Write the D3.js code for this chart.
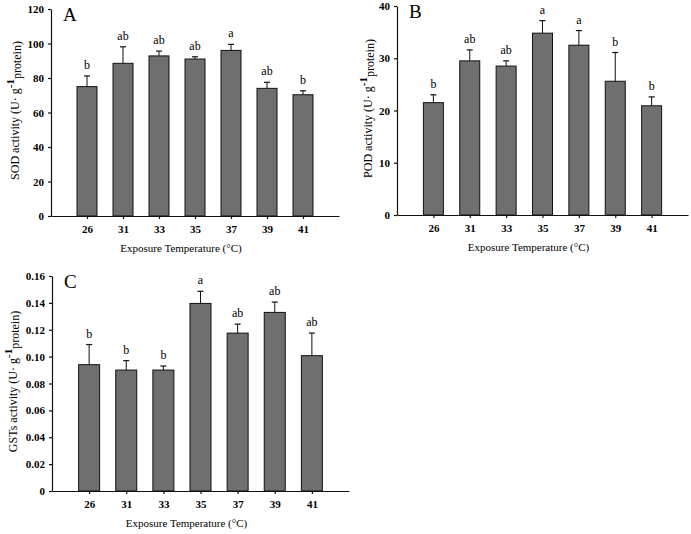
<!DOCTYPE html>
<html>
<head>
<meta charset="utf-8">
<script src="https://cdn.jsdelivr.net/npm/d3@7"></script>
<style>
  body { margin: 0; background: #fff; }
  svg { display: block; font-family: "Liberation Serif", "Times New Roman", serif; }
  .tick text { font-family: "Liberation Serif", "Times New Roman", serif; font-weight: bold; font-size: 11px; }
</style>
</head>
<body>
<svg id="chart" width="691" height="534"></svg>
<script>
// categories
const temps = ["26", "31", "33", "35", "37", "39", "41"];

// SOD (panel A)
const sodMean = [75.0, 88.5, 92.8, 91.0, 96.0, 74.0, 70.3];
const sodErr = [6.2, 9.6, 2.8, 1.3, 3.5, 3.5, 2.3];
const sodLetters = ["b", "ab", "ab", "ab", "a", "ab", "b"];
const sodTicks = [0, 20, 40, 60, 80, 100, 120];

// POD (panel B)
const podMean = [21.5, 29.5, 28.5, 34.8, 32.5, 25.6, 20.9];
const podErr = [1.5, 2.1, 1.0, 2.4, 2.8, 5.5, 1.7];
const podLetters = ["b", "ab", "ab", "a", "a", "b", "b"];
const podTicks = [0, 10, 20, 30, 40];

// GSTs (panel C)
const gstMean = [0.094, 0.090, 0.090, 0.1396, 0.1175, 0.1329, 0.1007];
const gstErr = [0.015, 0.007, 0.003, 0.009, 0.0067, 0.0077, 0.0168];
const gstLetters = ["b", "b", "b", "a", "ab", "ab", "ab"];
const gstTicks = [0, 0.02, 0.04, 0.06, 0.08, 0.10, 0.12, 0.14, 0.16];

const svg = d3.select("#chart");

// 画一个面板
function drawPanel(p) {
  const g = svg.append("g");

  const x = d3.scalePoint().domain(temps).range([p.x0, p.x1]).padding(1);
  const y = d3.scaleLinear().domain([0, p.max]).range([p.yb, p.yt]);

  const rows = temps.map((t, i) => ({ t, v: p.mean[i], e: p.err[i], l: p.letters[i] }));

  // bars
  g.selectAll("rect.bar").data(rows).enter().append("rect")
    .attr("class", "bar")
    .attr("x", d => x(d.t) - p.bw / 2)
    .attr("y", d => y(d.v))
    .attr("width", p.bw)
    .attr("height", d => y(0) - y(d.v))
    .attr("fill", "#6f6f6f")
    .attr("stroke", "#111")
    .attr("stroke-width", 1);

  // error bars (upper only)
  g.selectAll("line.err").data(rows).enter().append("line")
    .attr("x1", d => x(d.t)).attr("x2", d => x(d.t))
    .attr("y1", d => y(d.v)).attr("y2", d => y(d.v + d.e))
    .attr("stroke", "#111");
  g.selectAll("line.cap").data(rows).enter().append("line")
    .attr("x1", d => x(d.t) - 3).attr("x2", d => x(d.t) + 3)
    .attr("y1", d => y(d.v + d.e)).attr("y2", d => y(d.v + d.e))
    .attr("stroke", "#111").attr("stroke-width", 1.2);

  // significance letters
  g.selectAll("text.sig").data(rows).enter().append("text")
    .attr("x", d => x(d.t))
    .attr("y", d => y(d.v + d.e) - 7)
    .attr("text-anchor", "middle")
    .attr("font-size", 12)
    .text(d => d.l);

  // axes
  g.append("g")
    .attr("transform", `translate(${p.x0},0)`)
    .call(d3.axisLeft(y).tickValues(p.ticks).tickSize(3).tickPadding(4).tickSizeOuter(0).tickFormat(p.fmt));
  g.append("g")
    .attr("transform", `translate(0,${p.yb})`)
    .call(d3.axisBottom(x).tickSize(3).tickPadding(6).tickSizeOuter(0));
  g.selectAll(".domain, .tick line").attr("stroke", "#111").attr("stroke-width", 1.2);

  // panel letter
  g.append("text")
    .attr("x", p.x0 + 12).attr("y", p.yt + 12)
    .attr("font-size", 19)
    .text(p.tag);

  // x title
  g.append("text")
    .attr("x", (p.x0 + p.x1) / 2 - 14).attr("y", p.yb + 36)
    .attr("text-anchor", "middle")
    .attr("font-size", 11)
    .text("Exposure Temperature (°C)");

  // y title
  const yt = g.append("text")
    .attr("transform", `translate(${p.tx},${(p.yt + p.yb) / 2 - 2}) rotate(-90)`)
    .attr("text-anchor", "middle")
    .attr("font-size", 12);
  yt.append("tspan").text(p.name + " activity (U· g");
  yt.append("tspan").attr("dy", -5).attr("font-weight", "bold").attr("font-size", 11).text("-1");
  yt.append("tspan").attr("dy", 7).text("protein)");
}

drawPanel({ tag: "A", name: "SOD", mean: sodMean, err: sodErr, letters: sodLetters, ticks: sodTicks,
  max: 120, fmt: d3.format("d"), x0: 51, x1: 339, yt: 9, yb: 216, bw: 20, tx: 19 });
drawPanel({ tag: "B", name: "POD", mean: podMean, err: podErr, letters: podLetters, ticks: podTicks,
  max: 40, fmt: d3.format("d"), x0: 397, x1: 688, yt: 6, yb: 215, bw: 20, tx: 372 });
drawPanel({ tag: "C", name: "GSTs", mean: gstMean, err: gstErr, letters: gstLetters, ticks: gstTicks,
  max: 0.16, fmt: d => d === 0 ? "0" : d3.format(".2f")(d), x0: 52, x1: 349, yt: 276, yb: 491, bw: 21, tx: 17 });
</script>
</body>
</html>
